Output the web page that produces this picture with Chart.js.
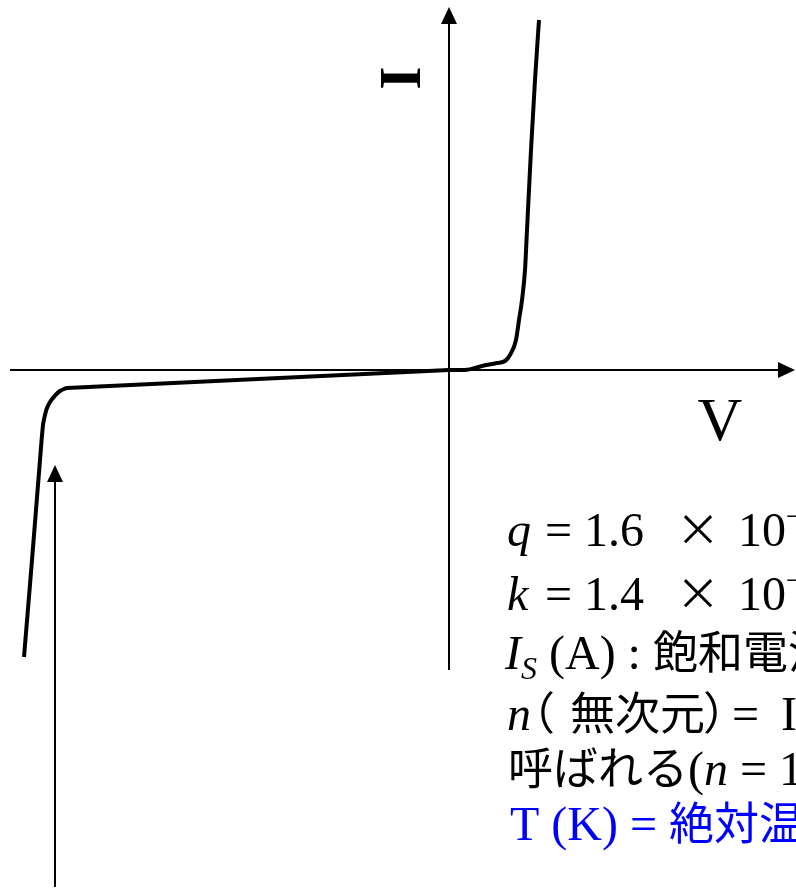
<!DOCTYPE html>
<html>
<head>
<meta charset="utf-8">
<script src="https://cdn.jsdelivr.net/npm/chart.js@4"></script>
<style>
  body { margin: 0; background: #fff; }
  canvas { display: block; }
</style>
</head>
<body>
<canvas id="grafico" width="796" height="890"></canvas>
<script>
// diode I-V curve (arbitrary units)
var voltage = [-4.25, -4.17, -4.09, -4.06, -4.04, -4.02, -3.99, -3.96, -3.93, -3.89, -3.85, -3.82, 0,
               0.16, 0.33, 0.48, 0.56, 0.61, 0.67, 0.70, 0.73, 0.76, 0.78, 0.82, 0.86, 0.90];
var current = [-2.87, -1.90, -0.90, -0.55, -0.45, -0.38, -0.32, -0.28, -0.245, -0.21, -0.19, -0.18, 0,
               0.00, 0.04, 0.07, 0.09, 0.15, 0.30, 0.50, 0.70, 1.00, 1.40, 2.20, 2.90, 3.50];

// axes extents
var vRange = [-4.49, 3.47];
var iRange = [-5.2, 3.7];
var vAxis = [-4.39, 3.46];
var iAxis = [-3.0, 3.63];
var breakdownArrow = { v: -3.94, from: -5.17, to: -0.95 };

// text block on the right (cut by the page edge)
var SERIF = 'Liberation Serif';
var JP = '"Noto Sans CJK JP"';
var textLines = [
  { y: 546, runs: [
    { x: 507, t: 'q', f: 'italic 48px ' + SERIF },
    { x: 545, t: '= 1.6', f: '48px ' + SERIF },
    { x: 676, t: '×', f: '44px ' + JP },
    { x: 738, t: '10', f: '48px ' + SERIF },
    { t: '−19', f: '30px ' + SERIF, dy: -20 },
    { t: ' (C)', f: '48px ' + SERIF } ] },
  { y: 610, runs: [
    { x: 507, t: 'k', f: 'italic 48px ' + SERIF },
    { x: 545, t: '= 1.4', f: '48px ' + SERIF },
    { x: 676, t: '×', f: '44px ' + JP },
    { x: 738, t: '10', f: '48px ' + SERIF },
    { t: '−23', f: '30px ' + SERIF, dy: -20 },
    { t: ' (J/K)', f: '48px ' + SERIF } ] },
  { y: 669, runs: [
    { x: 505, t: 'I', f: 'italic 48px ' + SERIF },
    { t: 'S', f: 'italic 32px ' + SERIF, dy: 10 },
    { t: ' (A) : ', f: '48px ' + SERIF },
    { t: '飽和電流', f: '45px ' + JP } ] },
  { y: 730, runs: [
    { x: 507, t: 'n', f: 'italic 48px ' + SERIF },
    { x: 510, t: '（', f: '45px ' + JP },
    { x: 570, t: '無次元', f: '45px ' + JP },
    { x: 703, t: '）', f: '45px ' + JP },
    { x: 732, t: '=', f: '48px ' + SERIF },
    { x: 781, t: 'Ideality factor', f: '48px ' + SERIF } ] },
  { y: 785, runs: [
    { x: 508, t: '呼ばれる', f: '45px ' + JP },
    { t: '(', f: '48px ' + SERIF },
    { t: 'n', f: 'italic 48px ' + SERIF },
    { t: ' = 1～2)', f: '48px ' + SERIF } ] },
  { y: 840, color: '#0000ff', runs: [
    { x: 510, t: 'T (K) = ', f: '48px ' + SERIF },
    { t: '絶対温度', f: '45px ' + JP } ] }
];

function arrow(ctx, x1, y1, x2, y2) {
  var ang = Math.atan2(y2 - y1, x2 - x1);
  var len = 17, half = 8;
  var bx = x2 - len * Math.cos(ang), by = y2 - len * Math.sin(ang);
  ctx.beginPath();
  ctx.moveTo(x1, y1);
  ctx.lineTo(bx, by);
  ctx.stroke();
  ctx.beginPath();
  ctx.moveTo(x2, y2);
  ctx.lineTo(bx + half * Math.sin(ang), by - half * Math.cos(ang));
  ctx.lineTo(bx - half * Math.sin(ang), by + half * Math.cos(ang));
  ctx.closePath();
  ctx.fill();
}

var axesPlugin = {
  id: 'axesPlugin',
  beforeDatasetsDraw: function (chart) {
    var ctx = chart.ctx;
    var x = chart.scales.x, y = chart.scales.y;
    var x0 = x.getPixelForValue(0), y0 = y.getPixelForValue(0);
    ctx.save();
    ctx.strokeStyle = '#000';
    ctx.fillStyle = '#000';
    ctx.lineWidth = 2;
    arrow(ctx, x.getPixelForValue(vAxis[0]), y0, x.getPixelForValue(vAxis[1]), y0);
    arrow(ctx, x0, y.getPixelForValue(iAxis[0]), x0, y.getPixelForValue(iAxis[1]));
    var bx = x.getPixelForValue(breakdownArrow.v);
    arrow(ctx, bx, y.getPixelForValue(breakdownArrow.from), bx, y.getPixelForValue(breakdownArrow.to));
    ctx.restore();
  },
  afterDraw: function (chart) {
    var ctx = chart.ctx;
    ctx.save();
    ctx.fillStyle = '#000';
    ctx.textBaseline = 'alphabetic';
    // axis labels
    ctx.font = '62px ' + SERIF;
    ctx.textAlign = 'center';
    ctx.fillText('V', 720, 440);
    ctx.save();
    ctx.translate(420, 78);
    ctx.rotate(-Math.PI / 2);
    ctx.font = 'bold 60px ' + SERIF;
    ctx.fillText('I', 0, 0);
    ctx.restore();
    // text block
    ctx.textAlign = 'left';
    textLines.forEach(function (line) {
      var cx = 0;
      ctx.fillStyle = line.color || '#000';
      line.runs.forEach(function (r) {
        if (r.x !== undefined) cx = r.x;
        ctx.font = r.f;
        ctx.fillText(r.t, cx, line.y + (r.dy || 0));
        cx += ctx.measureText(r.t).width;
      });
    });
    ctx.restore();
  }
};

var reverso = [], direto = [];
for (var i = 0; i < voltage.length; i++) {
  if (voltage[i] <= 0) reverso.push({ x: voltage[i], y: current[i] });
  if (voltage[i] >= 0) direto.push({ x: voltage[i], y: current[i] });
}

var estilo = {
  showLine: true,
  borderColor: '#000',
  borderWidth: 4,
  pointRadius: 0,
  fill: false
};

var grafico = document.getElementById('grafico').getContext('2d');
var chart = new Chart(grafico, {
  type: 'scatter',
  data: {
    datasets: [
      Object.assign({ data: reverso, tension: 0.3 }, estilo),
      Object.assign({ data: direto, cubicInterpolationMode: 'monotone' }, estilo)
    ]
  },
  options: {
    responsive: false,
    animation: false,
    layout: { padding: 0 },
    plugins: { legend: { display: false }, tooltip: { enabled: false } },
    scales: {
      x: { type: 'linear', display: false, min: vRange[0], max: vRange[1] },
      y: { type: 'linear', display: false, min: iRange[0], max: iRange[1] }
    }
  },
  plugins: [axesPlugin]
});
</script>
</body>
</html>
